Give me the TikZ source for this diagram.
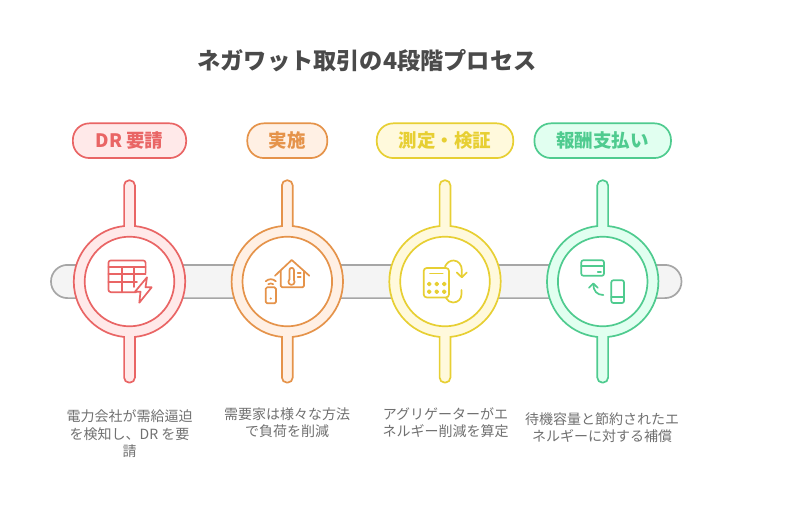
\documentclass[tikz,border=0pt]{standalone}
\usepackage{fontspec}
\setmainfont{Noto Sans CJK JP}
\definecolor{redline}{HTML}{E96565}
\definecolor{redfill}{HTML}{FFE9E9}
\definecolor{orangeline}{HTML}{E5934A}
\definecolor{orangefill}{HTML}{FFF0E4}
\definecolor{yellowline}{HTML}{E7CF33}
\definecolor{yellowfill}{HTML}{FFF9DC}
\definecolor{greenline}{HTML}{4FCB8F}
\definecolor{greenfill}{HTML}{E1FFF0}
\definecolor{barline}{HTML}{A6A6A6}
\definecolor{barfill}{HTML}{F4F4F4}
\definecolor{titletext}{HTML}{4A4A4A}
\definecolor{desctext}{HTML}{707070}
\tikzset{
	title/.style={font=\fontsize{23.2}{28}\selectfont\bfseries,text=titletext},
	pill/.style={draw=#1line,fill=#1fill,text=#1line,line width=1.7pt,rounded corners=16.5pt,minimum height=34.7pt,inner sep=0pt,font=\fontsize{18.5}{22}\selectfont\bfseries},
	desc/.style={align=center,text=desctext,inner sep=0pt,font=\fontsize{14}{17.3}\selectfont},
	band/.style={draw=#1line,fill=#1fill,line width=1.7pt},
	disc/.style={draw=#1line,fill=white,line width=1.7pt},
	icon/.style={draw=#1line,line width=1.7pt,line join=round,line cap=round},
}
% ring with its two stems, #1 = centre x, #2 = colour
\newcommand{\stemring}[2]{
	\draw [band=#2] (#1-5.4,226.05) [rounded corners=5pt] -- (#1-5.4,180.3) -- (#1+5.4,180.3) [sharp corners] -- (#1+5.4,226.05)
		arc [start angle=-84.45,end angle=84.45,radius=55.7] [rounded corners=5pt] -- (#1+5.4,382.6) -- (#1-5.4,382.6) [sharp corners] -- (#1-5.4,336.95)
		arc [start angle=95.55,end angle=264.45,radius=55.7] -- cycle;
	\draw [disc=#2] (#1,281.5) circle [radius=44.8];
}
\begin{document}
\begin{tikzpicture}[x=1pt,y=-1pt]
	\useasboundingbox (0,0) rectangle (800,532);

	\node [title] (titlenode) at (367,61) {ネガワット取引の4段階プロセス};

	\node [pill=red,minimum width=113.3pt] (pillrequest) at (129.5,140.7) {DR 要請};
	\node [pill=orange,minimum width=80pt] (pillaction) at (287.3,140.7) {実施};
	\node [pill=yellow,minimum width=136.5pt] (pillverify) at (445,140.7) {測定・検証};
	\node [pill=green,minimum width=136.5pt] (pillpay) at (602.7,140.7) {報酬支払い};

	\draw [draw=barline,fill=barfill,line width=1.7pt,rounded corners=16.5pt] (51,264.9) rectangle (681.5,298.1);

	\stemring{129.5}{red}
	\stemring{287.3}{orange}
	\stemring{445}{yellow}
	\stemring{602.7}{green}

	% table and bolt
	\draw [icon=red,rounded corners=2.5pt] (136,292.2) -- (108.4,292.2) -- (108.4,260.4) -- (145.6,260.4) -- (145.6,273);
	\draw [icon=red] (108.4,267) -- (145.6,267) (108.4,274.3) -- (145.6,274.3) (108.4,281.7) -- (137,281.7) (122.3,267) -- (122.3,292.2) (134,267) -- (134,287);
	\draw [icon=red] (147,277.3) -- (135,291.7) -- (140.5,291.7) -- (139.3,302.7) -- (151.7,287.3) -- (145.5,287.3) -- cycle;

	% house with thermometer and phone
	\draw [icon=orange] (275,275.7) -- (291.7,260) -- (309.3,275.7);
	\draw [icon=orange,rounded corners=1.5pt] (280.7,271) -- (280.7,287.3) -- (304,287.3) -- (304,271);
	\draw [icon=orange] (289.5,279.8) -- (289.5,270) arc [start angle=180,end angle=360,radius=2.2] -- (293.9,279.8) arc [start angle=-40,end angle=220,radius=3.1];
	\draw [icon=orange] (297.7,273.3) -- (300.7,273.3) (297.7,276.7) -- (300.7,276.7);
	\draw [icon=orange,rounded corners=1.5pt] (265.7,287.3) rectangle (276,303.3);
	\fill [orangeline] (270.8,298.5) circle [radius=1.1];
	\draw [icon=orange] (265.7,281.3) .. controls (268.5,278.5) and (273,278.5) .. (275.8,281.3);
	\draw [icon=orange] (268.3,284.2) .. controls (269.5,283.2) and (272,283.2) .. (273.2,284.2);

	% calculator and cycle arrows
	\draw [icon=yellow,rounded corners=3pt] (423.7,268) rectangle (449,297.4);
	\draw [icon=yellow] (430,273.5) -- (442.7,273.5);
	\draw [icon=yellow] (429.2,284) circle [radius=1.5] (436.7,284) circle [radius=1.5] (444.2,284) circle [radius=1.5];
	\draw [icon=yellow] (429.2,291.7) circle [radius=1.5] (436.7,291.7) circle [radius=1.5] (444.2,291.7) circle [radius=1.5];
	\draw [icon=yellow] (445,266.5) .. controls (447,262.5) and (450,260.5) .. (453.5,260.5) .. controls (458.5,260.5) and (461.8,265) .. (461.8,270) -- (461.8,277);
	\draw [icon=yellow] (456.8,272.5) -- (461.8,277.3) -- (466.8,272.5);
	\draw [icon=yellow] (461.5,290) -- (461.5,294) .. controls (461.5,299) and (458,302.5) .. (453,302.5) .. controls (450,302.5) and (447.5,300.8) .. (446,298);

	% card and phone
	\draw [icon=green,rounded corners=2pt] (581.3,260.3) rectangle (604,275.7);
	\draw [icon=green] (581.3,265.7) -- (604,265.7) (597.7,271.7) -- (601,271.7);
	\draw [icon=green,rounded corners=2pt] (611.3,280.3) rectangle (624,303);
	\draw [icon=green] (611.3,296.7) -- (624,296.7);
	\draw [icon=green] (603.3,295) .. controls (597,295) and (593.3,291) .. (593.3,284);
	\draw [icon=green] (589,287.7) -- (593.3,283.5) -- (597.7,287.7);

	\node [desc] (descrequest) at (129.5,433.8) {電力会社が需給逼迫\\を検知し、DR を要\\請};
	\node [desc] (descaction) at (287,423) {需要家は様々な方法\\で負荷を削減};
	\node [desc] (descverify) at (445.5,422.8) {アグリゲーターがエ\\ネルギー削減を算定};
	\node [desc] (descpay) at (602,427.8) {待機容量と節約されたエ\\ネルギーに対する補償};
\end{tikzpicture}
\end{document}
